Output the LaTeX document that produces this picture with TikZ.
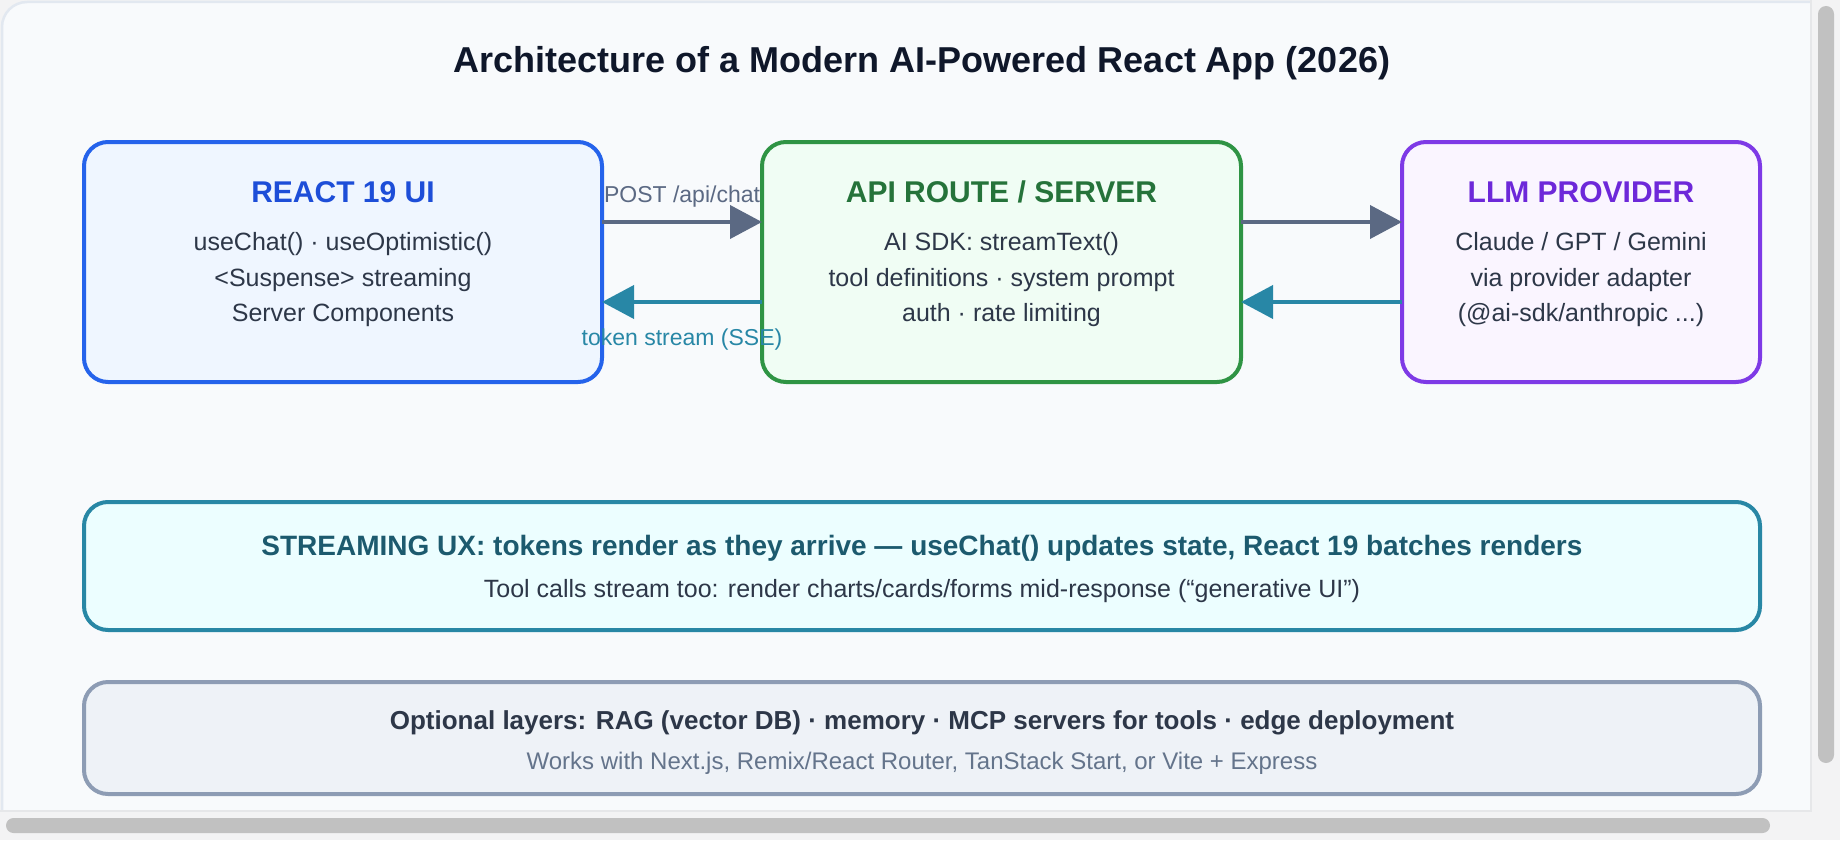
\documentclass[tikz,border=0pt]{standalone}
\usepackage{fontspec}
\setmainfont{Liberation Sans}
\usetikzlibrary{arrows.meta}
\definecolor{outerbg}{HTML}{F3F3F4}
\definecolor{cardbg}{HTML}{F8FAFC}
\definecolor{cardline}{HTML}{E2E8F0}
\definecolor{viewline}{HTML}{E6E7E9}
\definecolor{scroll}{HTML}{C1C1C1}
\definecolor{titlecol}{HTML}{0F172A}
\definecolor{bodycol}{HTML}{2D3748}
\definecolor{blueline}{HTML}{2563EB}
\definecolor{bluefill}{HTML}{EFF6FF}
\definecolor{bluetext}{HTML}{1D4ED8}
\definecolor{greenline}{HTML}{2F9444}
\definecolor{greenfill}{HTML}{F0FDF4}
\definecolor{greentext}{HTML}{25733A}
\definecolor{purpleline}{HTML}{7E3AE6}
\definecolor{purplefill}{HTML}{FAF5FF}
\definecolor{purpletext}{HTML}{6D28D9}
\definecolor{tealline}{HTML}{2887A5}
\definecolor{tealfill}{HTML}{ECFEFF}
\definecolor{tealtext}{HTML}{1C5A6E}
\definecolor{slateline}{HTML}{8D9CB4}
\definecolor{slatefill}{HTML}{EEF2F7}
\definecolor{slatetext}{HTML}{2D3748}
\definecolor{slatesub}{HTML}{64748B}
\definecolor{grayarrow}{HTML}{5B6983}
\definecolor{tealarrow}{HTML}{2887A6}
\tikzset{
  box/.style={draw, line width=2pt, rounded corners=12pt, inner sep=0pt, outer sep=0pt},
  txt/.style={anchor=base, inner sep=0pt, outer sep=0pt},
  titlef/.style={txt, font=\fontsize{18pt}{21pt}\selectfont\bfseries, text=titlecol},
  headf/.style={txt, font=\fontsize{15pt}{18pt}\selectfont\bfseries},
  bodyf/.style={txt, font=\fontsize{12.5pt}{15pt}\selectfont, text=bodycol},
  lblf/.style={txt, font=\fontsize{11.5pt}{14pt}\selectfont},
  garrow/.style={draw=grayarrow, line width=2pt, -{Triangle[length=16pt,width=16.5pt]}},
  tarrow/.style={draw=tealarrow, line width=2pt, -{Triangle[length=16pt,width=16.5pt]}}
}
\begin{document}
\begin{tikzpicture}[x=0.5pt,y=-0.5pt]
\useasboundingbox (0,0) rectangle (1840,840);
\fill[outerbg] (0,0) rectangle (1840,840);
% card (clipped by viewport on right and bottom)
\fill[cardbg] (1811,810) -- (2,810) -- (2,27) arc[start angle=180, end angle=90, radius=12.5pt] -- (1811,2) -- cycle;
\draw[cardline, line width=1.25pt] (2,810) -- (2,27) arc[start angle=180, end angle=90, radius=12.5pt] -- (1811,2);
\draw[viewline, line width=1pt] (1811,0) -- (1811,811) -- (0,811);
% scrollbars
\fill[scroll, rounded corners=4pt] (1818,6) rectangle (1834,763);
\fill[scroll, rounded corners=3.75pt] (6,818) rectangle (1770,833);

\node[titlef] (title) at (922,73) {Architecture of a Modern AI-Powered React App (2026)};

\node[box, draw=blueline, fill=bluefill, minimum width=259pt, minimum height=120pt] (react) at (343,262) {};
\node[box, draw=greenline, fill=greenfill, minimum width=239.5pt, minimum height=120pt] (api) at (1001.5,262) {};
\node[box, draw=purpleline, fill=purplefill, minimum width=179pt, minimum height=120pt] (llm) at (1581,262) {};

\node[headf, text=bluetext] (reacth) at (343,202) {REACT 19 UI};
\node[bodyf] (react1) at (343,250) {useChat() · useOptimistic()};
\node[bodyf] (react2) at (343,286) {<Suspense> streaming};
\node[bodyf] (react3) at (343,321) {Server Components};

\node[headf, text=greentext] (apih) at (1001.5,202) {API ROUTE / SERVER};
\node[bodyf] (api1) at (1001.5,250) {AI SDK: streamText()};
\node[bodyf] (api2) at (1001.5,286) {tool definitions · system prompt};
\node[bodyf] (api3) at (1001.5,321) {auth · rate limiting};

\node[headf, text=purpletext] (llmh) at (1581,202) {LLM PROVIDER};
\node[bodyf] (llm1) at (1581,250) {Claude / GPT / Gemini};
\node[bodyf] (llm2) at (1581,286) {via provider adapter};
\node[bodyf] (llm3) at (1581,321) {(@ai-sdk/anthropic ...)};

\draw[garrow] ([yshift=20pt]react.east) -- ([yshift=20pt]api.west);
\draw[tarrow] ([yshift=-20pt]api.west) -- ([yshift=-20pt]react.east);
\draw[garrow] ([yshift=20pt]api.east) -- ([yshift=20pt]llm.west);
\draw[tarrow] ([yshift=-20pt]llm.west) -- ([yshift=-20pt]api.east);

\node[lblf, text=grayarrow] (postlbl) at (682,202) {POST /api/chat};
\node[lblf, text=tealarrow] (toklbl) at (682,345) {token stream (SSE)};

\node[box, draw=tealline, fill=tealfill, minimum width=838pt, minimum height=64pt] (stream) at (922,566) {};
\node[txt, font=\fontsize{14pt}{17pt}\selectfont\bfseries, text=tealtext] (stream1) at (922,555) {STREAMING UX: tokens render as they arrive — useChat() updates state, React 19 batches renders};
\node[bodyf] (stream2) at (922,597) {Tool calls stream too: render charts/cards/forms mid-response (“generative UI”)};

\node[box, draw=slateline, fill=slatefill, minimum width=838pt, minimum height=56pt] (opt) at (922,738) {};
\node[txt, font=\fontsize{13pt}{16pt}\selectfont\bfseries, text=slatetext] (opt1) at (922,729) {Optional layers: RAG (vector DB) · memory · MCP servers for tools · edge deployment};
\node[txt, font=\fontsize{12pt}{15pt}\selectfont, text=slatesub] (opt2) at (922,769) {Works with Next.js, Remix/React Router, TanStack Start, or Vite + Express};
\end{tikzpicture}
\end{document}
